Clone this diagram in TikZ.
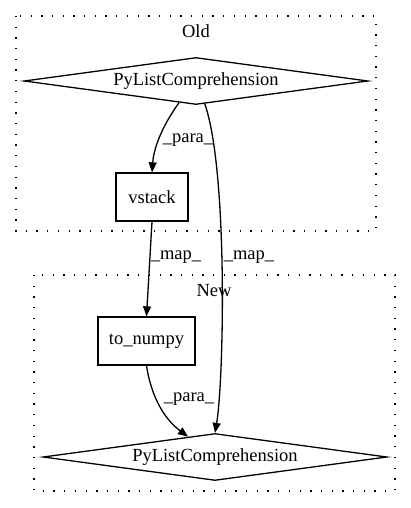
\documentclass[tikz,border=0pt]{standalone}
\usepackage{fontspec}
\setmainfont{Liberation Serif}
\usetikzlibrary{shapes.geometric,arrows.meta}
\begin{document}
\begin{tikzpicture}[x=1pt,y=1pt,
  every node/.style={font=\fontsize{18.5}{21}\selectfont},
  cluster/.style={draw, line width=1.3pt, dash pattern=on 1.3pt off 9.4pt},
  box/.style={draw, line width=1.3pt, inner sep=0pt},
  dia/.style={draw, line width=1.3pt, diamond, inner sep=0pt, shape aspect=7.3, minimum width=344pt, minimum height=47pt},
  edge/.style={line width=1.3pt, -{Triangle[length=10pt,width=8pt]}},
  lbl/.style={inner sep=0pt}]
\useasboundingbox (0,0) rectangle (411,-508);
% clusters
\draw[cluster] (16,-16) rectangle (376,-231);
\draw[cluster] (34,-275) rectangle (395,-491);
\node[lbl] (old) at (196,-31) {Old};
\node[lbl] (new) at (214,-291) {New};
% nodes
\node[dia] (d1) at (196,-81) {PyListComprehension};
\node[box, minimum width=72pt, minimum height=48pt] (vs) at (152,-197) {vstack};
\node[box, minimum width=97pt, minimum height=48pt] (tn) at (146.5,-341) {to\_numpy};
\node[dia] (d2) at (215,-457) {PyListComprehension};
% edges
\draw[edge] (d1.-128) .. controls (165,-122) and (154,-145) .. (vs.north);
\draw[edge] (d1.-69) .. controls (228,-170) and (224,-380) .. (d2.north);
\draw[edge] (vs.south) -- (tn.north);
\draw[edge] (tn.south) .. controls (151,-395) and (163,-418) .. (d2.143);
% labels
\node[lbl] (l1) at (188,-140) {\_para\_};
\node[lbl] (l2) at (176,-257) {\_map\_};
\node[lbl] (l3) at (249,-257) {\_map\_};
\node[lbl] (l4) at (189,-399) {\_para\_};
\end{tikzpicture}
\end{document}
